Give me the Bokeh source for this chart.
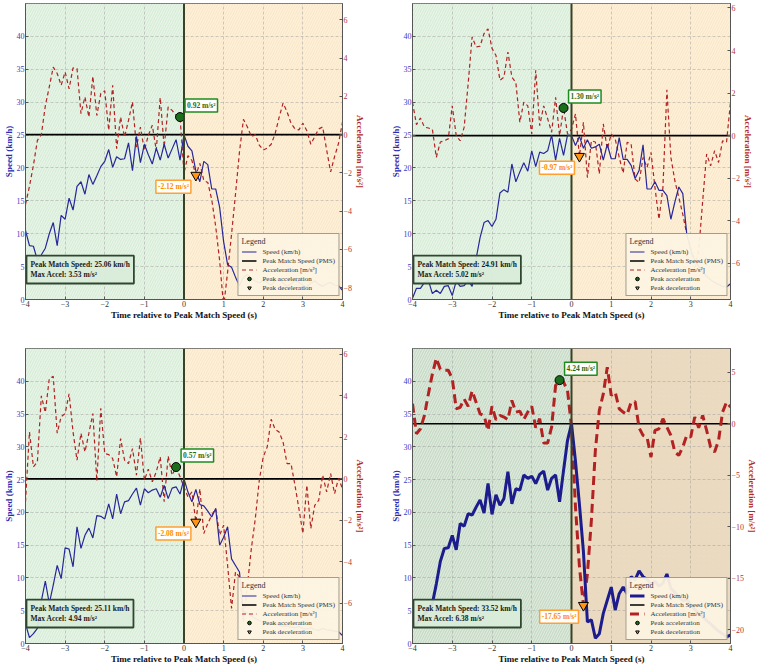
import numpy as np
from bokeh.plotting import figure
from bokeh.models import (Range1d, LinearAxis, FixedTicker, Label, Legend, LegendItem,
                          CustomJSTickFormatter, Span)
from bokeh.layouts import gridplot
from bokeh.embed import file_html
from bokeh.resources import INLINE

# ---------------- data ----------------
TIME = [round(-4.0 + 0.1 * k, 1) for k in range(81)]

SPEED_1 = [10.5, 8.2, 8.1, 6.0, 6.8, 7.8, 10.0, 11.7, 8.2, 12.8,
           12.2, 15.4, 13.6, 17.2, 17.9, 16.0, 19.0, 17.5, 18.8, 20.2,
           21.0, 22.8, 20.1, 21.7, 21.3, 21.4, 23.8, 19.6, 24.8, 20.8,
           23.6, 22.0, 20.6, 23.0, 21.2, 23.6, 21.5, 22.9, 24.3, 21.2,
           25.06, 23.3, 22.6, 19.5, 17.9, 21.0, 20.5, 16.8, 16.8, 14.0,
           8.8, 5.3, 4.9, 3.4, 2.1, 3.4, 3.8, 3.2, 2.8, 2.5,
           3.0, 2.6, 2.2, 2.8, 3.1, 2.5, 2.0, 2.4, 2.9, 2.6,
           2.2, 1.9, 2.5, 2.8, 2.3, 2.0, 2.4, 2.6, 2.2, 2.1, 1.4]
ACCEL_1 = [-3.65, -2.7, -1.6, -0.3, 0.0, 1.5, 2.5, 3.53, 3.2, 2.58,
           3.28, 2.4, 3.49, 3.46, 1.1, 1.97, 0.92, 3.05, 1.0, 2.15,
           2.29, 0.23, 2.58, -0.73, 0.92, -0.12, 0.75, 1.71, -0.65, 0.4,
           -0.82, -0.03, 0.49, -0.82, 1.94, -0.65, 1.45, 1.27, 1.01, 0.92,
           -2.0, -1.1, -1.35, -2.12, -1.5, -2.4, -2.5, -3.4, -4.8, -6.6,
           -9.0, -7.2, -5.2, -3.1, -0.9, 0.8, 0.4, -0.1, 0.0, -0.55,
           -0.8, -0.7, -0.5, 0.05, 0.9, 1.65, 1.2, 0.6, 0.3, 0.25,
           0.6, 0.2, -0.5, -0.1, 0.3, 0.4, -0.8, -1.95, -1.15, -0.45, 0.65]

SPEED_2 = [0.2, 1.7, 1.7, 2.6, 2.9, 0.9, 1.4, 0.9, 2.0, 2.1,
           0.6, 2.8, 2.0, 2.1, 2.9, 2.0, 6.2, 9.4, 11.7, 12.0,
           11.1, 12.2, 16.2, 16.7, 16.3, 20.6, 17.9, 19.4, 20.8, 19.5,
           22.6, 20.2, 22.4, 22.2, 22.6, 25.0, 21.2, 24.5, 21.9, 25.0,
           24.91, 23.4, 24.8, 23.0, 24.3, 23.0, 23.2, 23.6, 21.2, 23.6,
           21.4, 21.4, 24.6, 21.3, 21.3, 20.4, 18.4, 19.6, 23.5, 16.8,
           16.8, 17.9, 16.6, 16.6, 15.8, 12.2, 14.8, 17.1, 16.1, 9.9,
           7.5, 6.0, 5.0, 4.2, 3.5, 3.0, 2.6, 2.3, 2.0, 1.9, 2.4]
ACCEL_2 = [1.57, 0.52, 0.83, 0.4, 0.36, 0.3, -1.02, -0.3, -0.24, -0.15,
           1.4, 0.0, -0.24, 0.4, 2.44, 4.64, 4.17, 4.2, 4.8, 5.02,
           4.1, 3.77, 2.6, 2.75, 3.93, 2.75, 2.5, 0.63, 1.57, 1.4,
           0.08, 3.07, 0.47, 1.4, 0.8, 0.16, 1.8, 0.0, 1.30, 0.08,
           0.3, 1.02, -0.97, 0.63, -1.97, -0.24, -0.3, -1.8, 0.55, -0.63,
           0.08, -0.16, -1.02, -1.76, -0.31, -0.39, -2.04, -2.2, -1.02, -1.5,
           -0.79, -2.44, -3.93, -2.44, 2.15, -1.02, -2.12, -2.9, -3.7, -4.64,
           -5.27, -6.2, -5.42, -3.07, -0.86, -1.42, -0.71, -1.26, -0.24, -0.31, 1.57]

SPEED_3 = [3.0, 0.9, 1.5, 2.3, 6.5, 9.5, 6.1, 8.9, 11.9, 9.9,
           14.6, 14.4, 11.7, 17.8, 14.5, 16.5, 17.6, 16.1, 19.5, 19.4,
           19.0, 21.3, 19.0, 22.8, 19.8, 21.6, 21.8, 22.8, 23.7, 21.1,
           23.6, 23.0, 23.4, 23.6, 22.3, 24.1, 22.1, 23.7, 23.9, 22.8,
           25.11, 23.1, 21.6, 23.5, 21.2, 21.0, 20.2, 19.3, 20.6, 15.0,
           16.2, 17.8, 12.9, 11.9, 10.9, 4.8, 4.6, 4.2, 3.8, 3.5,
           3.2, 3.0, 2.9, 3.1, 2.8, 2.6, 2.7, 2.5, 2.4, 2.6,
           2.3, 2.2, 2.4, 2.1, 2.0, 2.3, 2.1, 2.0, 1.9, 1.8, 1.2]
ACCEL_3 = [-1.1, 2.26, 0.58, 0.82, 4.0, 3.2, 4.83, 4.94, 2.2, 3.0,
           3.15, 4.1, 2.26, 0.9, 2.2, 1.3, 2.2, 3.15, -0.1, 3.4,
           1.22, 1.17, 0.98, 0.1, 1.94, 0.9, 0.74, 1.46, 0.18, 1.97,
           -0.06, 0.47, -0.14, 0.34, 1.06, -1.1, 1.1, 0.18, 0.57, 0.1,
           -0.39, -0.87, -0.63, -2.08, -0.47, -2.63, -2.15, -1.75, -1.43, -2.71,
           -2.23, -4.16, -6.24, -4.48, -4.72, -6.89, -5.12, -3.35, -1.91, -0.06,
           1.06, 1.54, 2.87, 2.39, 2.26, 1.78, 0.74, 0.74, -0.3, -1.43,
           -2.63, -0.3, -2.39, -1.27, -1.03, 0.18, -0.63, 0.26, -0.71, 0.02, -0.47]

SPEED_4 = [2.5, 3.0, 3.8, 4.5, 5.2, 6.1, 9.1, 12.5, 14.5, 14.6,
           16.5, 14.3, 18.3, 17.9, 19.8, 19.6, 20.8, 21.9, 19.9, 24.4,
           19.7, 22.7, 21.1, 22.1, 26.2, 21.3, 23.6, 23.4, 25.7, 25.2,
           25.5, 24.4, 25.8, 26.3, 23.4, 25.2, 25.7, 21.6, 26.4, 31.0,
           33.52, 27.8, 21.2, 14.0, 3.3, 3.6, 0.8, 1.5, 4.6, 6.6,
           8.6, 5.1, 7.6, 8.6, 7.6, 10.2, 9.7, 11.1, 10.2, 9.8,
           9.0, 9.5, 8.7, 9.2, 10.6, 8.4, 7.8, 7.2, 6.5, 6.8,
           5.9, 5.2, 4.6, 4.1, 3.5, 3.0, 2.4, 1.9, 1.5, 1.0, 1.3]
ACCEL_4 = [1.94, -0.97, -0.49, 0.81, 2.9, 4.85, 6.38, 5.3, 5.2, 5.2,
           4.4, 1.46, 1.6, 2.4, 1.7, 3.2, 2.1, 0.97, 0.81, -0.65,
           1.7, 0.39, 0.81, 0.65, 0.39, 2.27, 1.13, 1.23, 0.42, 1.13,
           1.7, -0.39, 0.49, -1.88, -1.88, -0.32, 3.72, 4.24, 4.05, 3.24,
           -0.32, -8.1, -13.9, -17.65, -14.6, -9.4, -2.6, 1.3, 2.9, 5.5,
           2.75, 3.07, 1.46, 1.13, 0.9, 2.1, 2.17, -0.39, -1.13, -1.29,
           -3.24, -0.65, -0.49, 0.49, -0.32, -1.13, -2.75, -3.07, -2.27, -1.13,
           -1.29, 0.65, -0.39, 0.81, -0.65, -2.27, -2.75, -1.62, 1.13, 2.1, 1.62]

SPEEDS = [SPEED_1, SPEED_2, SPEED_3, SPEED_4]
ACCELS = [ACCEL_1, ACCEL_2, ACCEL_3, ACCEL_4]
PMS = [25.06, 24.91, 25.11, 33.52]
MAX_ACCEL = [3.53, 5.02, 4.94, 6.38]
PEAK_ACC_T = [-0.1, -0.2, -0.2, -0.3]
PEAK_ACC = [0.92, 1.30, 0.57, 4.24]
PEAK_DEC_T = [0.3, 0.2, 0.3, 0.3]
PEAK_DEC = [-2.12, -0.97, -2.08, -17.65]

X_TICKS = [-4, -3, -2, -1, 0, 1, 2, 3, 4]
SPEED_TICKS = [0, 5, 10, 15, 20, 25, 30, 35, 40]
ACCEL_TICKS = [[-8, -6, -4, -2, 0, 2, 4, 6],
               [-8, -6, -4, -2, 0, 2, 4, 6],
               [-8, -6, -4, -2, 0, 2, 4, 6],
               [-20, -15, -10, -5, 0, 5]]
ACCEL_LO = [-8.62, -7.70, -7.93, -21.36]
X_LIM = (-4, 4)
SPEED_LIM = (0, 45)

FONT = "Liberation Serif"
BLUE = "#27279a"
RED = "#b22222"
MINUS_FMT = "return (tick < 0 ? '\u2212' : '') + Math.abs(tick).toString();"


def make_panel(k):
    left_col = (k % 2 == 0)
    top_row = (k < 2)
    strong = (k == 3)
    pms = PMS[k]
    p = figure(width=380, height=336 if top_row else 330,
               x_range=Range1d(*X_LIM), y_range=Range1d(*SPEED_LIM),
               output_backend="svg", toolbar_location=None,
               min_border_left=23 if left_col else 32,
               min_border_right=38 if left_col else 28,
               min_border_top=3 if top_row else 12,
               min_border_bottom=37 if top_row else 22)
    p.background_fill_color = "white"
    p.border_fill_color = "white"
    p.outline_line_color = "#555555"
    p.outline_line_width = 1

    lo = ACCEL_LO[k]
    f = pms / SPEED_LIM[1]
    hi = -lo * (1 - f) / f
    p.extra_y_ranges = {"acc": Range1d(lo, hi)}

    # shaded phases
    g_col, o_col = ("#c7dbc6", "#ebdbc3") if strong else ("#d8edd8", "#fff0d7")
    p.quad(left=[X_LIM[0]], right=[0], bottom=[SPEED_LIM[0]], top=[SPEED_LIM[1]],
           fill_color=g_col, line_color=None, hatch_pattern="/", hatch_color="white",
           hatch_alpha=0.5, hatch_scale=5, hatch_weight=1, level="image")
    p.quad(left=[0], right=[X_LIM[1]], bottom=[SPEED_LIM[0]], top=[SPEED_LIM[1]],
           fill_color=o_col, line_color=None, hatch_pattern="/", hatch_color="#e6d3b0",
           hatch_alpha=0.35, hatch_scale=5, hatch_weight=1, level="image")

    # grid
    p.xgrid.ticker = FixedTicker(ticks=X_TICKS)
    p.ygrid.ticker = FixedTicker(ticks=SPEED_TICKS)
    for g in (p.xgrid, p.ygrid):
        g.grid_line_color = "#9a9a9a"
        g.grid_line_alpha = 0.45
        g.grid_line_dash = "3 2"
        g.grid_line_width = 1

    # lines
    pms_r = p.line(x=list(X_LIM), y=[pms, pms], line_color="black", line_width=1.6)
    acc_r = p.line(x=TIME, y=ACCELS[k], y_range_name="acc", line_color=RED,
                   line_width=3 if strong else 1.2,
                   line_dash="9 5" if strong else "4 3")
    spd_r = p.line(x=TIME, y=SPEEDS[k], line_color=BLUE if not strong else "#1c1c8c",
                   line_width=3 if strong else 1.2)
    p.add_layout(Span(location=0, dimension="height", line_color="#3a4226", line_width=2))
    pa_r = p.scatter(x=[PEAK_ACC_T[k]], y=[PEAK_ACC[k]], y_range_name="acc", marker="circle",
                     size=9, fill_color="#1b6e1b", line_color="black", line_width=1)
    pd_r = p.scatter(x=[PEAK_DEC_T[k]], y=[PEAK_DEC[k]], y_range_name="acc",
                     marker="inverted_triangle", size=10, fill_color="#ff9510",
                     line_color="black", line_width=1)

    # annotations of peaks
    p.add_layout(Label(x=PEAK_ACC_T[k], y=PEAK_ACC[k], y_range_name="acc",
                       x_offset=5, y_offset=5, text=f"{PEAK_ACC[k]:.2f} m/s²",
                       text_align="left", text_baseline="bottom",
                       text_font=FONT, text_font_size="7.5px", text_font_style="bold",
                       text_color="#1b6e1b", background_fill_color="white",
                       border_line_color="#1f8a1f", border_line_width=1.5, padding=2))
    p.add_layout(Label(x=PEAK_DEC_T[k], y=PEAK_DEC[k], y_range_name="acc",
                       x_offset=-5, y_offset=-5, text=f"{PEAK_DEC[k]:.2f} m/s²",
                       text_align="right", text_baseline="top",
                       text_font=FONT, text_font_size="7.5px", text_font_style="bold",
                       text_color="#ff8c00", background_fill_color="white",
                       border_line_color="#ffa030", border_line_width=1.5, padding=2))

    # info box
    p.add_layout(Label(x=X_LIM[0], y=SPEED_LIM[0], x_offset=1, y_offset=16,
                       text=f"Peak Match Speed: {pms:.2f} km/h\nMax Accel: {MAX_ACCEL[k]:.2f} m/s²",
                       text_align="left", text_baseline="bottom",
                       text_font=FONT, text_font_size="7.5px", text_font_style="bold",
                       text_color="#1a1a1a", background_fill_color="#d9ecd9",
                       background_fill_alpha=0.95, border_line_color="#2f472f",
                       border_line_width=1.8, padding=4))

    # axes
    ax = p.xaxis[0]
    ax.ticker = FixedTicker(ticks=X_TICKS)
    ax.formatter = CustomJSTickFormatter(code=MINUS_FMT)
    ax.axis_label = "Time relative to Peak Match Speed (s)"
    ax.axis_label_text_color = "#111111"
    ax.major_label_text_color = "#333333"

    ly = p.left[0]
    ly.ticker = FixedTicker(ticks=SPEED_TICKS)
    ly.axis_label = "Speed (km/h)"
    ly.axis_label_text_color = "#2a2ab0"
    ly.major_label_text_color = "#3c3cc0"

    ry = LinearAxis(y_range_name="acc", ticker=FixedTicker(ticks=ACCEL_TICKS[k]),
                    formatter=CustomJSTickFormatter(code=MINUS_FMT),
                    axis_label="Acceleration [m/s²]")
    ry.axis_label_text_color = "#b02a2a"
    ry.major_label_text_color = "#b03838"
    p.add_layout(ry, "right")

    for a in (ax, ly, ry):
        a.axis_label_text_font = FONT
        a.axis_label_text_font_size = "9px"
        a.axis_label_text_font_style = "bold"
        a.major_label_text_font = FONT
        a.major_label_text_font_size = "8px"
        a.major_tick_in = 3
        a.major_tick_out = 0
        a.minor_tick_in = 0
        a.minor_tick_out = 0
        a.major_label_standoff = 1
        a.axis_label_standoff = 0
        a.axis_line_color = "#555555"
        a.major_tick_line_color = "#555555"

    legend = Legend(items=[
        LegendItem(label="Speed (km/h)", renderers=[spd_r]),
        LegendItem(label="Peak Match Speed (PMS)", renderers=[pms_r]),
        LegendItem(label="Acceleration [m/s²]", renderers=[acc_r]),
        LegendItem(label="Peak acceleration", renderers=[pa_r]),
        LegendItem(label="Peak deceleration", renderers=[pd_r]),
    ], location="bottom_right", title="Legend")
    legend.title_text_font = FONT
    legend.title_text_font_size = "8px"
    legend.title_text_font_style = "normal"
    legend.title_text_color = "#333333"
    legend.title_text_align = "center"
    legend.label_text_font = FONT
    legend.label_text_font_size = "7px"
    legend.label_text_color = "#333333"
    legend.background_fill_color = "#fdf3e1"
    legend.background_fill_alpha = 0.95
    legend.border_line_color = "#4a4a38"
    legend.border_line_width = 1.5
    legend.glyph_width = 15
    legend.glyph_height = 9
    legend.label_height = 9
    legend.spacing = 0
    legend.padding = 3
    legend.margin = 3
    legend.label_standoff = 6
    legend.title_standoff = 1
    p.add_layout(legend)
    return p


panels = [make_panel(k) for k in range(4)]
grid = gridplot([[panels[0], panels[1]], [panels[2], panels[3]]], toolbar_location=None)

open("out.html", "w").write(file_html(grid, INLINE))
